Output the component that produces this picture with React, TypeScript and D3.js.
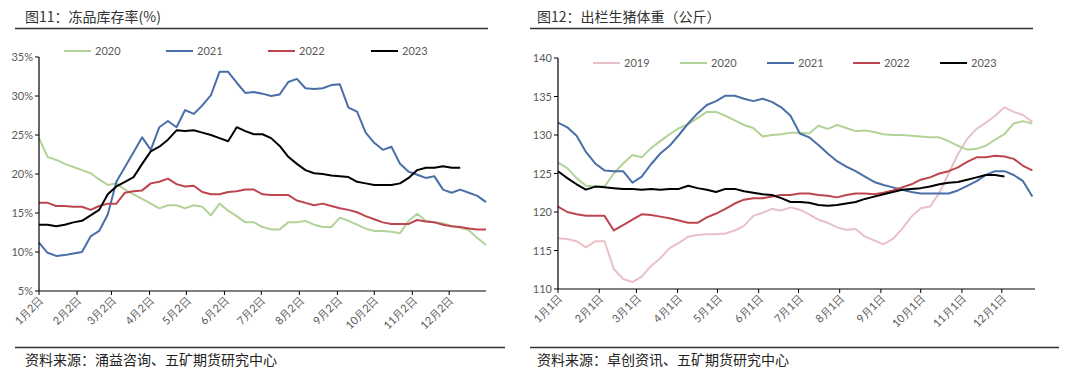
import React from "react";
import * as d3 from "d3";

// ---------- Left chart: 冻品库存率 (weekly, starting 1月2日) ----------
const leftYears = ["2020", "2021", "2022", "2023"];
const leftTicksX = ["1月2日", "2月2日", "3月2日", "4月2日", "5月2日", "6月2日", "7月2日", "8月2日", "9月2日", "10月2日", "11月2日", "12月2日"];
const leftTickDays = [0, 31, 59, 90, 120, 151, 181, 212, 243, 273, 304, 334];
const leftTicksY = [5, 10, 15, 20, 25, 30, 35];

const inv2020 = [24.6, 22.2, 21.8, 21.3, 20.9, 20.5, 20.1, 19.3, 18.6, 18.8, 18.0, 17.4, 16.8, 16.2, 15.6, 16.0, 16.0, 15.6, 16.0, 15.8, 14.7, 16.2, 15.3, 14.6, 13.8, 13.8, 13.2, 12.9, 12.9, 13.8, 13.8, 14.0, 13.5, 13.2, 13.2, 14.4, 14.0, 13.5, 13.0, 12.7, 12.7, 12.6, 12.4, 14.0, 14.9, 14.0, 13.8, 13.7, 13.3, 13.1, 12.8, 11.8, 10.9];
const inv2021 = [11.2, 9.9, 9.5, 9.6, 9.8, 10.0, 12.0, 12.7, 14.8, 19.0, 20.9, 22.8, 24.7, 23.1, 26.0, 26.8, 26.0, 28.2, 27.7, 28.8, 30.1, 33.1, 33.1, 31.7, 30.4, 30.5, 30.3, 30.0, 30.2, 31.8, 32.2, 31.0, 30.9, 31.0, 31.4, 31.5, 28.5, 28.0, 25.3, 24.0, 23.1, 23.5, 21.3, 20.3, 19.9, 19.5, 19.7, 18.0, 17.6, 18.0, 17.6, 17.2, 16.4];
const inv2022 = [16.3, 16.3, 15.9, 15.9, 15.8, 15.8, 15.4, 15.9, 16.2, 16.2, 17.6, 17.8, 17.9, 18.8, 19.0, 19.4, 18.7, 18.4, 18.5, 17.7, 17.4, 17.4, 17.7, 17.8, 18.0, 18.0, 17.4, 17.3, 17.3, 17.3, 16.6, 16.3, 16.0, 16.2, 15.9, 15.6, 15.4, 15.1, 14.6, 14.2, 13.8, 13.6, 13.6, 13.6, 14.1, 13.9, 13.8, 13.5, 13.3, 13.2, 13.0, 12.9, 12.9];
const inv2023 = [13.5, 13.5, 13.3, 13.5, 13.8, 14.0, 14.7, 15.4, 17.4, 18.4, 19.0, 19.6, 21.3, 22.9, 23.5, 24.4, 25.6, 25.5, 25.6, 25.3, 25.0, 24.6, 24.2, 26.0, 25.5, 25.1, 25.1, 24.6, 23.6, 22.2, 21.3, 20.5, 20.1, 20.0, 19.8, 19.7, 19.6, 19.0, 18.8, 18.6, 18.6, 18.6, 18.8, 19.5, 20.5, 20.8, 20.8, 21.0, 20.8, 20.8];

// ---------- Right chart: 出栏生猪体重 (weekly, starting 1月1日) ----------
const rightYears = ["2019", "2020", "2021", "2022", "2023"];
const rightTicksX = ["1月1日", "2月1日", "3月1日", "4月1日", "5月1日", "6月1日", "7月1日", "8月1日", "9月1日", "10月1日", "11月1日", "12月1日"];
const rightTickDays = [0, 31, 59, 90, 120, 151, 181, 212, 243, 273, 304, 334];
const rightTicksY = [110, 115, 120, 125, 130, 135, 140];

const wt2019 = [116.6, 116.5, 116.2, 115.4, 116.2, 116.2, 112.6, 111.3, 110.9, 111.6, 113.0, 114.0, 115.3, 116.0, 116.8, 117.0, 117.1, 117.1, 117.2, 117.6, 118.2, 119.5, 119.9, 120.4, 120.2, 120.6, 120.3, 119.7, 119.0, 118.6, 118.0, 117.7, 117.8, 116.8, 116.3, 115.8, 116.5, 117.8, 119.4, 120.5, 120.7, 122.5, 125.0, 127.5, 129.5, 130.8, 131.6, 132.5, 133.6, 133.0, 132.6, 131.7];
const wt2020 = [126.4, 125.7, 124.4, 123.4, 123.3, 123.3, 125.0, 126.3, 127.4, 127.1, 128.3, 129.2, 130.1, 130.9, 131.4, 132.2, 133.0, 133.0, 132.5, 131.9, 131.3, 130.9, 129.8, 130.0, 130.1, 130.3, 130.3, 130.2, 131.2, 130.8, 131.3, 130.9, 130.5, 130.6, 130.4, 130.1, 130.0, 130.0, 129.9, 129.8, 129.7, 129.7, 129.2, 128.6, 128.1, 128.2, 128.6, 129.4, 130.1, 131.5, 131.8, 131.5];
const wt2021 = [131.6, 131.0, 129.9, 127.8, 126.3, 125.4, 125.3, 125.3, 123.8, 124.6, 126.2, 127.6, 128.6, 130.0, 131.5, 132.8, 133.9, 134.4, 135.1, 135.1, 134.7, 134.4, 134.7, 134.3, 133.6, 132.5, 130.2, 129.7, 128.7, 127.6, 126.6, 125.9, 125.3, 124.6, 123.9, 123.5, 123.2, 122.9, 122.6, 122.4, 122.4, 122.4, 122.4, 122.8, 123.4, 124.0, 124.8, 125.3, 125.3, 124.8, 124.0, 122.0];
const wt2022 = [120.7, 120.0, 119.7, 119.5, 119.5, 119.5, 117.6, 118.3, 119.0, 119.7, 119.6, 119.4, 119.2, 118.9, 118.6, 118.6, 119.3, 119.8, 120.4, 121.1, 121.6, 121.8, 121.8, 122.0, 122.2, 122.2, 122.4, 122.4, 122.2, 122.1, 121.9, 122.2, 122.4, 122.4, 122.3, 122.5, 122.8, 123.2, 123.6, 124.2, 124.5, 125.0, 125.3, 125.8, 126.5, 127.1, 127.1, 127.3, 127.2, 126.9, 126.0, 125.4];
const wt2023 = [125.3, 124.4, 123.6, 122.9, 123.3, 123.2, 123.1, 123.0, 123.0, 122.9, 123.0, 122.9, 123.0, 123.0, 123.4, 123.1, 122.9, 122.6, 123.0, 123.0, 122.7, 122.5, 122.3, 122.2, 121.8, 121.3, 121.3, 121.2, 120.9, 120.8, 120.9, 121.1, 121.3, 121.7, 122.0, 122.3, 122.6, 122.9, 123.0, 123.1, 123.3, 123.6, 123.8, 123.9, 124.2, 124.5, 124.8, 124.8, 124.6];

const C2019 = "#eac0c7";
const C2020 = "#b2d398";
const C2021 = "#4a6ea8";
const C2022 = "#bd4550";
const C2023 = "#000000";
const TICK_COLOR = "#595959";
const FONT_NUM = "Lato, 'Open Sans', sans-serif";
const FONT_CJK = "'Noto Sans CJK SC', 'Noto Sans', sans-serif";

type Series = { name: string; color: string; values: number[] };

function Panel(props: {
  x0: number; x1: number; y0: number; y1: number; dayMax: number;
  yDomain: [number, number]; yTicks: number[]; yFmt: (v: number) => string;
  xTicks: string[]; xTickDays: number[]; series: Series[];
  legendX: number[]; legendY: number;
}) {
  const { x0, x1, y0, y1, dayMax, yDomain, yTicks, yFmt, xTicks, xTickDays, series, legendX, legendY } = props;
  const xs = d3.scaleLinear().domain([0, dayMax]).range([x0, x1]);
  const ys = d3.scaleLinear().domain(yDomain).range([y1, y0]);
  const line = d3.line<number>().x((_, i) => xs(i * 7)).y((v) => ys(v));
  return (
    <g>
      {series.map((s) => (
        <path key={s.name} d={line(s.values) || ""} fill="none" stroke={s.color} strokeWidth={2} strokeLinejoin="round" />
      ))}
      <line x1={x0} x2={x0} y1={y0} y2={y1} stroke="#000" strokeWidth={1.2} />
      <line x1={x0} x2={x1} y1={y1} y2={y1} stroke="#000" strokeWidth={1.2} />
      {yTicks.map((t) => (
        <g key={t}>
          <line x1={x0 - 4} x2={x0} y1={ys(t)} y2={ys(t)} stroke="#000" strokeWidth={1} />
          <text x={x0 - 6} y={ys(t) + 4} textAnchor="end" fontSize={11} fill={TICK_COLOR} fontFamily={FONT_NUM}>{yFmt(t)}</text>
        </g>
      ))}
      {xTickDays.map((d, i) => (
        <g key={d}>
          <line x1={xs(d)} x2={xs(d)} y1={y1} y2={y1 + 4} stroke="#000" strokeWidth={1} />
          <text transform={`translate(${xs(d) + 5},${y1 + 10}) rotate(-45)`} textAnchor="end" fontSize={11} fill={TICK_COLOR} fontFamily={FONT_NUM}>{xTicks[i]}</text>
        </g>
      ))}
      {series.map((s, i) => (
        <g key={"lg" + s.name}>
          <line x1={legendX[i]} x2={legendX[i] + 27} y1={legendY} y2={legendY} stroke={s.color} strokeWidth={2} />
          <text x={legendX[i] + 31} y={legendY + 4} fontSize={11} fill={TICK_COLOR} fontFamily={FONT_NUM}>{s.name}</text>
        </g>
      ))}
    </g>
  );
}

export default function App() {
  const leftSeries: Series[] = [
    { name: leftYears[0], color: C2020, values: inv2020 },
    { name: leftYears[1], color: C2021, values: inv2021 },
    { name: leftYears[2], color: C2022, values: inv2022 },
    { name: leftYears[3], color: C2023, values: inv2023 },
  ];
  const rightSeries: Series[] = [
    { name: rightYears[0], color: C2019, values: wt2019 },
    { name: rightYears[1], color: C2020, values: wt2020 },
    { name: rightYears[2], color: C2021, values: wt2021 },
    { name: rightYears[3], color: C2022, values: wt2022 },
    { name: rightYears[4], color: C2023, values: wt2023 },
  ];
  return (
    <svg width={1080} height={372} style={{ position: "fixed", left: 0, top: 0, background: "#fff" }}>
      <rect x={0} y={0} width={1080} height={372} fill="#fff" />
      {/* Left panel */}
      <text x={25} y={22} fontSize={14} fill="#333" fontFamily={FONT_CJK}>图11：冻品库存率(%)</text>
      <line x1={15} x2={488} y1={28.5} y2={28.5} stroke="#333" strokeWidth={1.3} />
      <Panel x0={39} x1={486} y0={57} y1={291} dayMax={364} yDomain={[5, 35]} yTicks={leftTicksY}
        yFmt={(v) => `${v}%`} xTicks={leftTicksX} xTickDays={leftTickDays} series={leftSeries}
        legendX={[64, 166, 268, 371]} legendY={51} />
      <line x1={15} x2={505} y1={347.5} y2={347.5} stroke="#333" strokeWidth={1.3} />
      <text x={25} y={365} fontSize={14} fill="#222" fontFamily={FONT_CJK}>资料来源：涌益咨询、五矿期货研究中心</text>

      {/* Right panel */}
      <text x={537} y={22} fontSize={14} fill="#333" fontFamily={FONT_CJK}>图12：出栏生猪体重（公斤）</text>
      <line x1={530} x2={1033} y1={28.5} y2={28.5} stroke="#333" strokeWidth={1.3} />
      <Panel x0={558} x1={1035} y0={58} y1={289} dayMax={359} yDomain={[110, 140]} yTicks={rightTicksY}
        yFmt={(v) => `${v}`} xTicks={rightTicksX} xTickDays={rightTickDays} series={rightSeries}
        legendX={[593, 680, 767, 853, 940]} legendY={63} />
      <line x1={530} x2={1059} y1={347.5} y2={347.5} stroke="#333" strokeWidth={1.3} />
      <text x={537} y={365} fontSize={14} fill="#222" fontFamily={FONT_CJK}>资料来源：卓创资讯、五矿期货研究中心</text>
    </svg>
  );
}
